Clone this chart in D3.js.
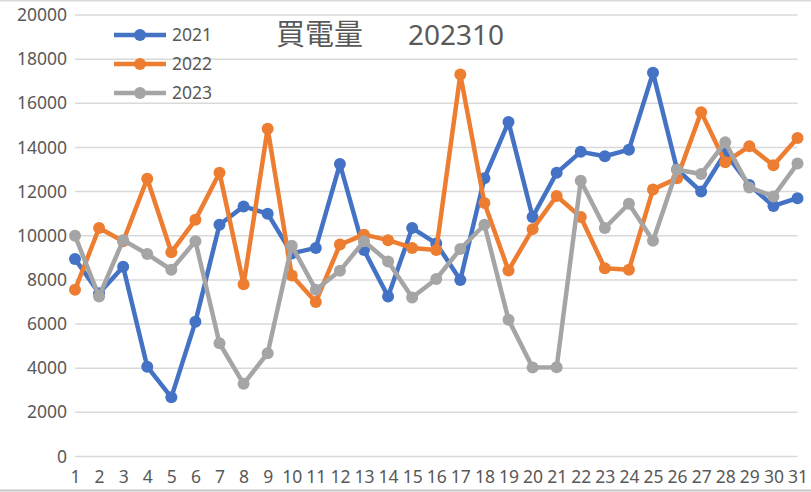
<!DOCTYPE html>
<html>
<head>
<meta charset="utf-8">
<script src="https://cdn.jsdelivr.net/npm/d3@7"></script>
<style>
html,body{margin:0;padding:0;background:#fff;}
svg{display:block;}
</style>
</head>
<body>
<svg id="chart" width="811" height="492"></svg>
<script>
const days = d3.range(1, 32);
const yTicks = [0, 2000, 4000, 6000, 8000, 10000, 12000, 14000, 16000, 18000, 20000];
const seriesNames = ["2021", "2022", "2023"];
const v2021 = [8950, 7400, 8600, 4070, 2680, 6100, 10500, 11330, 11000, 9200, 9450, 13250, 9350, 7250, 10350, 9650, 8000, 12600, 15150, 10850, 12850, 13800, 13600, 13900, 17380, 13000, 12000, 13750, 12300, 11350, 11700];
const v2022 = [7550, 10350, 9750, 12580, 9250, 10720, 12850, 7800, 14850, 8200, 7000, 9600, 10050, 9800, 9450, 9350, 17300, 11480, 8430, 10300, 11800, 10850, 8530, 8460, 12100, 12600, 15600, 13330, 14050, 13190, 14430];
const v2023 = [10000, 7250, 9800, 9170, 8460, 9750, 5130, 3290, 4680, 9550, 7550, 8410, 9750, 8830, 7200, 8040, 9400, 10500, 6200, 4030, 4040, 12490, 10350, 11450, 9770, 12990, 12800, 14230, 12190, 11780, 13270];
const colors = ["#4472C4", "#ED7D31", "#A5A5A5"];
const titleWord = "買電量";
const titleCode = "202310";

const svg = d3.select("#chart");
const x = d3.scalePoint().domain(days).range([75, 797.5]);
const y = d3.scaleLinear().domain([0, 20000]).range([456.5, 15]);
const textColor = "#595959";
const font = "'Noto Sans', 'Open Sans', sans-serif";

// borders
svg.append("line").attr("x1", 0).attr("x2", 811).attr("y1", 0.5).attr("y2", 0.5)
  .attr("stroke", "#d9d9d9").attr("stroke-width", 2);
svg.append("line").attr("x1", 0).attr("x2", 811).attr("y1", 490.5).attr("y2", 490.5)
  .attr("stroke", "#c8c8c8").attr("stroke-width", 2);

// gridlines
svg.append("g").selectAll("line").data(yTicks).join("line")
  .attr("x1", 75).attr("x2", 797.5)
  .attr("y1", d => y(d)).attr("y2", d => y(d))
  .attr("stroke", "#d9d9d9").attr("stroke-width", 1.5);

// y axis
const yAxis = svg.append("g").attr("transform", "translate(75,0)")
  .call(d3.axisLeft(y).tickValues(yTicks).tickSize(0).tickPadding(8).tickFormat(d3.format("d")));
yAxis.select(".domain").remove();
yAxis.selectAll("text").attr("fill", textColor).style("font-family", font).style("font-size", "17.5px");

// x axis
const xAxis = svg.append("g").attr("transform", "translate(0,470)")
  .call(d3.axisBottom(x).tickSize(0).tickPadding(0));
xAxis.select(".domain").remove();
xAxis.selectAll("text").attr("fill", textColor).style("font-family", font).style("font-size", "17.5px").attr("dy", "0.72em").attr("y", 0);

// series
const allSeries = [v2021, v2022, v2023];
const line = d3.line().x((d, i) => x(days[i])).y(d => y(d));
allSeries.forEach((vals, si) => {
  const g = svg.append("g");
  g.append("path").datum(vals).attr("d", line)
    .attr("fill", "none").attr("stroke", colors[si]).attr("stroke-width", 4.5)
    .attr("stroke-linejoin", "round");
  g.selectAll("circle").data(vals).join("circle")
    .attr("cx", (d, i) => x(days[i])).attr("cy", d => y(d)).attr("r", 6)
    .attr("fill", colors[si]);
});

// legend
const legend = svg.append("g");
seriesNames.forEach((name, i) => {
  const ly = 35 + i * 29;
  legend.append("line").attr("x1", 114).attr("x2", 166).attr("y1", ly).attr("y2", ly)
    .attr("stroke", colors[i]).attr("stroke-width", 4.5);
  legend.append("circle").attr("cx", 140).attr("cy", ly).attr("r", 6).attr("fill", colors[i]);
  legend.append("text").attr("x", 172).attr("y", ly).attr("dy", "0.35em")
    .attr("fill", textColor).style("font-family", font).style("font-size", "17.5px").text(name);
});

// title
const title = svg.append("text").attr("y", 35).attr("dy", "0.35em")
  .attr("fill", textColor).style("font-size", "29px");
title.append("tspan").attr("x", 276).style("font-family", "'Noto Sans CJK JP', sans-serif").text(titleWord);
title.append("tspan").attr("x", 408).style("font-family", "'Noto Sans', sans-serif").style("font-size", "28px").text(titleCode);
</script>
</body>
</html>
